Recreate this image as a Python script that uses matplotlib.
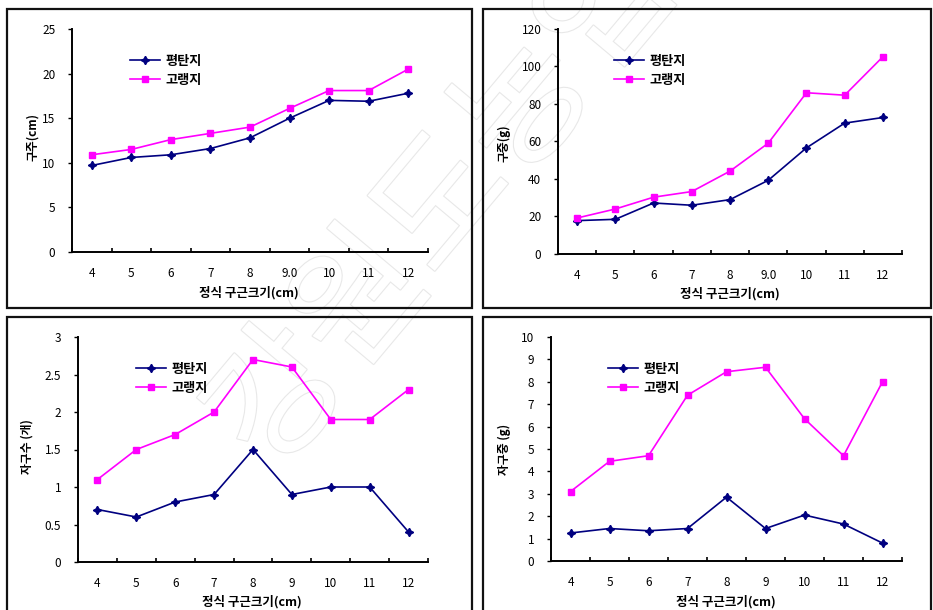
import matplotlib
matplotlib.use('Agg')
import matplotlib.pyplot as plt
import matplotlib.patheffects as pe
from matplotlib.patches import Rectangle
import numpy as np

plt.rcParams['font.family'] = ['Noto Sans CJK KR', 'DejaVu Sans']

# bulb size at planting (categories)
sizes_a = ['4', '5', '6', '7', '8', '9.0', '10', '11', '12']
sizes_b = ['4', '5', '6', '7', '8', '9', '10', '11', '12']

series_names = ['평탄지', '고랭지']

# bulb circumference (cm)
circ_flat = [9.7, 10.6, 10.9, 11.6, 12.8, 15.0, 17.0, 16.9, 17.8]
circ_high = [10.9, 11.5, 12.6, 13.3, 14.0, 16.1, 18.1, 18.1, 20.5]

# bulb weight (g)
wt_flat = [17.8, 18.5, 27.2, 26.0, 29.0, 39.3, 56.6, 69.8, 72.8]
wt_high = [19.2, 24.0, 30.3, 33.3, 44.2, 59.1, 86.0, 84.7, 105.2]

# number of bulblets
cnt_flat = [0.7, 0.6, 0.8, 0.9, 1.5, 0.9, 1.0, 1.0, 0.4]
cnt_high = [1.1, 1.5, 1.7, 2.0, 2.7, 2.6, 1.9, 1.9, 2.3]

# bulblet weight (g)
bw_flat = [1.25, 1.45, 1.35, 1.45, 2.85, 1.45, 2.05, 1.65, 0.8]
bw_high = [3.1, 4.45, 4.7, 7.4, 8.45, 8.65, 6.35, 4.7, 8.0]

W, H = 933, 610
fig = plt.figure(figsize=(W / 100, H / 100), dpi=100)

NAVY = '#000080'
MAG = '#ff00ff'


def px_rect(l, t, r, b):
    return [l / W, 1 - b / H, (r - l) / W, (b - t) / H]


# panel frames
for l, t, r, b in [(7, 9, 472, 308), (483, 9, 931, 308),
                   (7, 317, 472, 612), (483, 317, 931, 612)]:
    fig.patches.append(Rectangle((l / W, 1 - b / H), (r - l) / W, (b - t) / H,
                                 transform=fig.transFigure, fill=False,
                                 edgecolor='#111111', linewidth=1.6, zorder=5))

# faint watermark (outlined letters running up to the top edge)
wm = fig.text(240 / W, 1 - 450 / H, '강원도농업', fontsize=100, color='white',
              rotation=50, rotation_mode='anchor', ha='left', va='center',
              zorder=-5)
wm.set_path_effects([pe.Stroke(linewidth=1.6, foreground='#e8e8e8'), pe.Normal()])

panels = [
    dict(rect=(72, 29, 428, 252), flat=circ_flat, high=circ_high, ymax=25, step=5,
         ylabels=['0', '5', '10', '15', '20', '25'], xl=sizes_a, ylab='구주(cm)',
         ylab_xy=(33, 137), xlab_xy=(249, 293), leg=(130, 54)),
    dict(rect=(558, 29, 902, 254), flat=wt_flat, high=wt_high, ymax=120, step=20,
         ylabels=['0', '20', '40', '60', '80', '100', '120'], xl=sizes_a, ylab='구중(g)',
         ylab_xy=(504, 143), xlab_xy=(730, 294), leg=(614, 54)),
    dict(rect=(78, 337, 428, 562), flat=cnt_flat, high=cnt_high, ymax=3, step=0.5,
         ylabels=['0', '0.5', '1', '1.5', '2', '2.5', '3'], xl=sizes_b, ylab='자구수 (개)',
         ylab_xy=(27, 447), xlab_xy=(252, 602), leg=(136, 362)),
    dict(rect=(551, 337, 902, 561), flat=bw_flat, high=bw_high, ymax=10, step=1,
         ylabels=[str(i) for i in range(11)], xl=sizes_b, ylab='자구중 (g)',
         ylab_xy=(504, 449), xlab_xy=(726, 602), leg=(608, 362)),
]

for p in panels:
    ax = fig.add_axes(px_rect(*p['rect']))
    ax.patch.set_alpha(0)
    x = np.arange(len(p['xl']))
    ax.plot(x, p['flat'], color=NAVY, lw=1.2, marker=(4, 1, 0), ms=6,
            mec=NAVY, mfc=NAVY, mew=1.0, label=series_names[0])
    ax.plot(x, p['high'], color=MAG, lw=1.2, marker='s', ms=4,
            mec=MAG, mfc=MAG, label=series_names[1])
    ax.set_xlim(-0.5, len(x) - 0.5)
    ax.set_ylim(0, p['ymax'])
    yt = np.arange(0, p['ymax'] + p['step'] / 2, p['step'])
    ax.set_yticks(yt)
    ax.set_yticklabels(p['ylabels'])
    ax.set_xticks(x)
    ax.set_xticklabels(p['xl'])
    ax.set_xticks(np.arange(len(x) + 1) - 0.5, minor=True)
    ax.tick_params(axis='x', which='major', length=0, pad=11, labelsize=8.5)
    ax.tick_params(axis='x', which='minor', direction='in', length=3, width=1.2)
    ax.tick_params(axis='y', which='major', direction='out', length=3, width=1.0,
                   pad=9, labelsize=8.5)
    for s in ['top', 'right']:
        ax.spines[s].set_visible(False)
    for s in ['left', 'bottom']:
        ax.spines[s].set_linewidth(1.4)
    lx, ly = p['leg']
    ax.legend(loc='upper left', bbox_to_anchor=(lx / W, 1 - ly / H),
              bbox_transform=fig.transFigure, frameon=False,
              handlelength=2.3, handletextpad=0.4, labelspacing=0.35,
              borderpad=0, borderaxespad=0, prop={'weight': 'bold', 'size': 9.5})
    fig.text(p['ylab_xy'][0] / W, 1 - p['ylab_xy'][1] / H, p['ylab'], rotation=90,
             ha='center', va='center', fontsize=8.5, fontweight='bold')
    fig.text(p['xlab_xy'][0] / W, 1 - p['xlab_xy'][1] / H, '정식 구근크기(cm)',
             ha='center', va='center', fontsize=9, fontweight='bold')

fig.savefig('out.png', dpi=100)
